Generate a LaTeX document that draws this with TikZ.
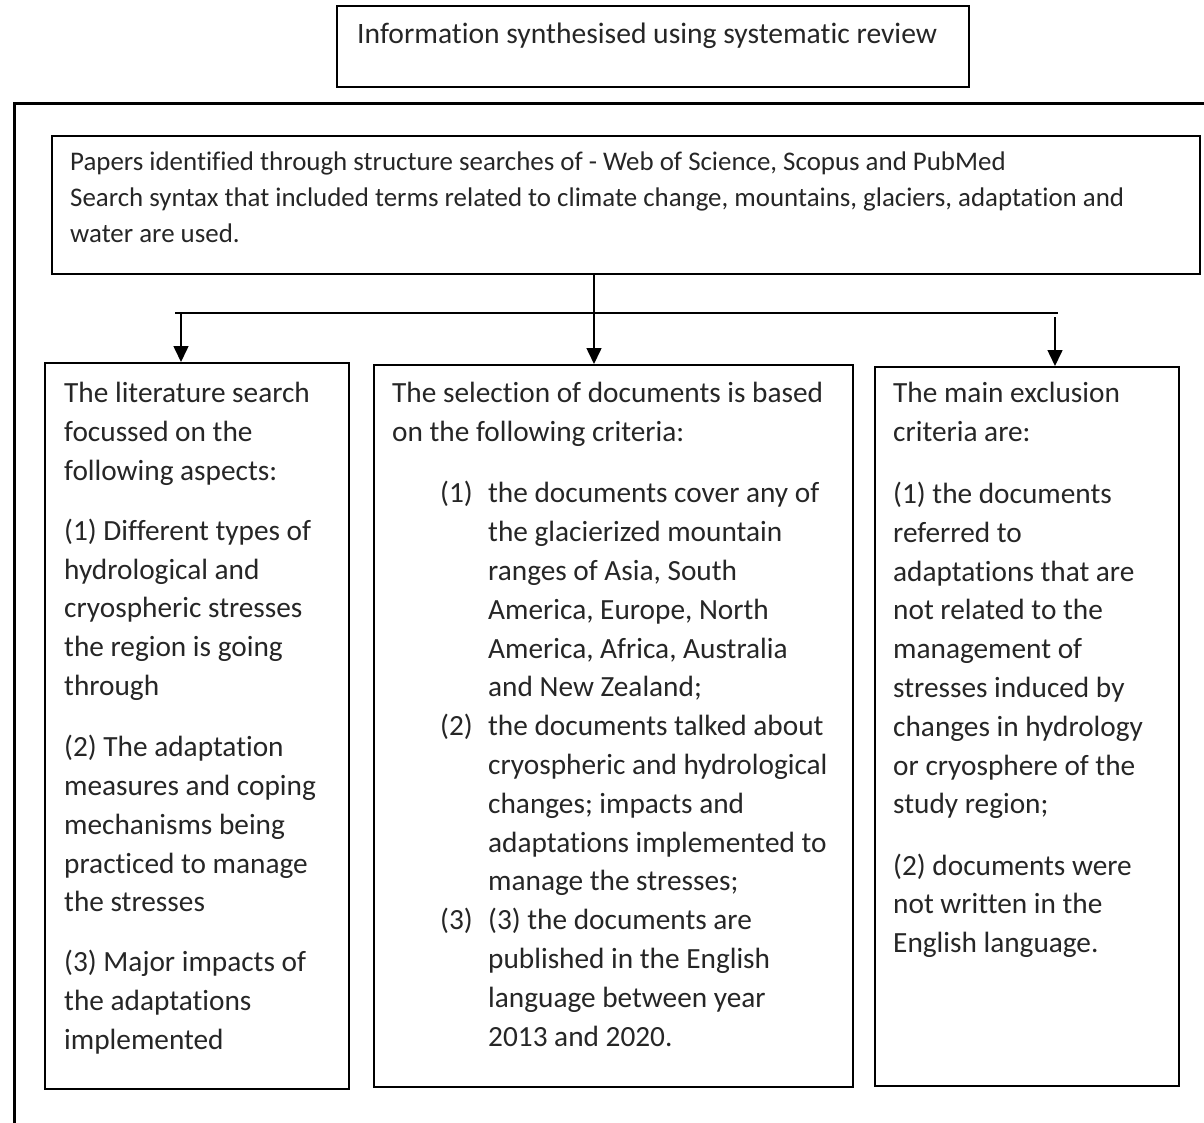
\documentclass[tikz,border=0pt]{standalone}
\usepackage{fontspec}
\setmainfont{Carlito}[Ligatures={NoCommon}]
\usetikzlibrary{arrows.meta}
\definecolor{txtcol}{RGB}{38,38,38}
\newlength{\numw}
\setlength{\numw}{48pt}
\newcommand{\itm}[1]{\makebox[\numw][l]{#1}}
\newcommand{\ind}{\hspace*{\numw}}
\begin{document}
\begin{tikzpicture}[x=1pt,y=-1pt,
  box/.style={draw, line width=1.6pt, inner sep=0pt, anchor=north west},
  txt/.style={anchor=north west, inner sep=0pt, align=left, text=txtcol,
    font=\fontsize{29.3}{38.8}\selectfont},
  titletxtstyle/.style={txt, font=\fontsize{29.6}{38.8}\selectfont},
  smalltxt/.style={txt, font=\fontsize{26.9}{36}\selectfont},
  conn/.style={line width=1.6pt},
  arr/.style={line width=1.6pt, -{Triangle[width=15pt,length=16pt]}},
  frame/.style={line width=3pt}]
\useasboundingbox (0,0) rectangle (1204,1123);
\fill[white] (0,0) rectangle (1204,1123);

% outer frame
\draw[frame] (1215,104) -- (14,104) -- (14,1135);

% boxes
\node[box, minimum width=632pt, minimum height=81pt] (title) at (336,5) {};
\node[box, minimum width=1148pt, minimum height=138pt] (src) at (51,135) {};
\node[box, minimum width=304pt, minimum height=726pt] (b1) at (44,362) {};
\node[box, minimum width=479pt, minimum height=722pt] (b2) at (373,364) {};
\node[box, minimum width=304pt, minimum height=719pt] (b3) at (874,366) {};

% texts (north = first baseline - 0.7 baselineskip)
\node[titletxtstyle] (titletxt) at (357,16.3) {\strut Information synthesised using systematic review};
\node[smalltxt] (srctxt) at (70,144.8) {\strut Papers identified through structure searches of - Web of Science, Scopus and PubMed\\
Search syntax that included terms related to climate change, mountains, glaciers, adaptation and\\
water are used.};

\node[txt] (t1) at (64,375.5) {\strut The literature search\\
focussed on the\\
following aspects:\\[21pt]
(1) Different types of\\
hydrological and\\
cryospheric stresses\\
the region is going\\
through\\[22.5pt]
(2) The adaptation\\
measures and coping\\
mechanisms being\\
practiced to manage\\
the stresses\\[21pt]
(3) Major impacts of\\
the adaptations\\
implemented};

\node[txt] (t2) at (392,375.5) {\strut The selection of documents is based\\
on the following criteria:};
\node[txt] (t2list) at (440,475.5) {\strut\itm{(1)}the documents cover any of\\
\ind the glacierized mountain\\
\ind ranges of Asia, South\\
\ind America, Europe, North\\
\ind America, Africa, Australia\\
\ind and New Zealand;\\
\itm{(2)}the documents talked about\\
\ind cryospheric and hydrological\\
\ind changes; impacts and\\
\ind adaptations implemented to\\
\ind manage the stresses;\\
\itm{(3)}(3) the documents are\\
\ind published in the English\\
\ind language between year\\
\ind 2013 and 2020.};

\node[txt] (t3) at (893,375.5) {\strut The main exclusion\\
criteria are:\\[23pt]
(1) the documents\\
referred to\\
adaptations that are\\
not related to the\\
management of\\
stresses induced by\\
changes in hydrology\\
or cryosphere of the\\
study region;\\[22.5pt]
(2) documents were\\
not written in the\\
English language.};

% connectors
\coordinate (trunk) at (594,274);
\coordinate (hl) at (175,313);
\coordinate (hr) at (1058,313);
\coordinate (jl) at (181,313);
\coordinate (jr) at (1055,317);
\draw[arr] (trunk) -- (trunk |- b2.north);
\draw[conn] (hl) -- (hr);
\draw[arr] (jl) -- (jl |- b1.north);
\draw[arr] (jr) -- (jr |- b3.north);
\end{tikzpicture}
\end{document}
